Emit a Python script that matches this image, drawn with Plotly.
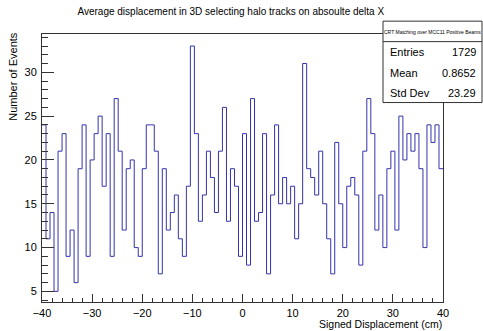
import plotly.graph_objects as go

# Histogram: 100 bins from -40 to 40 cm
x_min = -40.0
x_max = 40.0
counts = [24, 11, 14, 5, 21, 23, 9, 12, 6, 19,
          24, 9, 20, 23, 25, 17, 23, 9, 27, 21,
          12, 19, 20, 10, 9, 19, 24, 24, 21, 7,
          19, 12, 14, 16, 11, 9, 17, 33, 23, 13,
          16, 21, 18, 14, 21, 26, 13, 19, 17, 9,
          23, 8, 27, 13, 14, 23, 7, 16, 24, 15,
          18, 15, 17, 11, 15, 31, 19, 18, 16, 21,
          15, 11, 7, 22, 15, 10, 17, 18, 16, 8,
          21, 27, 23, 12, 16, 10, 19, 21, 12, 25,
          20, 23, 21, 23, 19, 10, 24, 22, 24, 19]
x_ticks = [-40, -30, -20, -10, 0, 10, 20, 30, 40]
y_ticks = [5, 10, 15, 20, 25, 30]
stats_labels = ["Entries", "Mean", "Std Dev"]
stats_values = ["1729", "0.8652", "23.29"]
stats_title = "CRT Matching over MCC11 Positive Beams"
title_text = "Average displacement in 3D selecting halo tracks on absoulte delta X"
x_title = "Signed Displacement (cm)"
y_title = "Number of Events"

nb = len(counts)
bw = (x_max - x_min) / nb
edges = [x_min + i * bw for i in range(nb + 1)]
ys = counts + [counts[-1]]

W, H = 483, 331
L, R, T, B = 42, 40, 34, 26
PW, PH = W - L - R, H - T - B


def px(x):
    return (x - L) / PW


def py(y):
    return (H - B - y) / PH


FONT = "Liberation Sans, Arial, Helvetica, sans-serif"
LINE = "#3333aa"
AX = "#333333"

fig = go.Figure()
fig.add_trace(go.Scatter(x=edges, y=ys, mode="lines", line=dict(color=LINE, width=1, shape="hv"),
                         hoverinfo="skip", showlegend=False))

fig.update_layout(
    width=W, height=H,
    margin=dict(l=L, r=R, t=T, b=B, pad=0),
    paper_bgcolor="white", plot_bgcolor="white",
    font=dict(family=FONT, size=11, color="black"),
    showlegend=False,
    title=dict(text=title_text, x=230.8 / W, xanchor="center", xref="container",
               y=1 - 11.7 / H, yanchor="middle", yref="container",
               font=dict(size=10, family=FONT, color="black")),
)
fig.update_xaxes(range=[x_min, x_max], tickvals=x_ticks, ticks="inside", ticklen=8, tickcolor=AX,
                 showline=True, linecolor=AX, linewidth=1, mirror=True, showgrid=False, zeroline=False,
                 tickfont=dict(size=11), ticklabelstandoff=1,
                 minor=dict(ticks="inside", ticklen=4, dtick=2, tick0=0, tickcolor=AX, showgrid=False))
fig.update_yaxes(range=[3.79, 34.37], tickvals=y_ticks, ticks="inside", ticklen=12, tickcolor=AX,
                 showline=True, linecolor=AX, linewidth=1, mirror=True, showgrid=False, zeroline=False,
                 tickfont=dict(size=11), ticklabelstandoff=2,
                 minor=dict(ticks="inside", ticklen=6, dtick=1, tick0=0, tickcolor=AX, showgrid=False))

ann = []
ann.append(dict(text=y_title, x=px(12.7), y=py(76.5), xref="paper", yref="paper", textangle=-90,
                showarrow=False, xanchor="center", yanchor="middle", font=dict(size=11)))
ann.append(dict(text=x_title, x=px(444), y=py(326.8), xref="paper", yref="paper",
                showarrow=False, xanchor="right", yanchor="middle", font=dict(size=10.5)))

# stats box
bx0, bx1, by0, by1, bsep = 383, 482, 21, 103.3, 41.7
shapes = [
    dict(type="rect", xref="paper", yref="paper", x0=px(bx0), x1=px(bx1), y0=py(by1), y1=py(by0),
         fillcolor="white", line=dict(color=AX, width=1), layer="above"),
    dict(type="line", xref="paper", yref="paper", x0=px(bx0), x1=px(bx1), y0=py(bsep), y1=py(bsep),
         line=dict(color=AX, width=1), layer="above"),
]
ann.append(dict(text=stats_title, x=px((bx0 + bx1) / 2), y=py(31.5), xref="paper", yref="paper",
                showarrow=False, xanchor="center", yanchor="middle", font=dict(size=5)))
rows_y = [51.7, 73.3, 93.3]
for lab, val, yy in zip(stats_labels, stats_values, rows_y):
    ann.append(dict(text=lab, x=px(388.3), y=py(yy), xref="paper", yref="paper",
                    showarrow=False, xanchor="left", yanchor="middle", font=dict(size=11)))
    ann.append(dict(text=val, x=px(478.3), y=py(yy), xref="paper", yref="paper",
                    showarrow=False, xanchor="right", yanchor="middle", font=dict(size=11)))

fig.update_layout(annotations=ann, shapes=shapes)
fig.write_html("out.html")
